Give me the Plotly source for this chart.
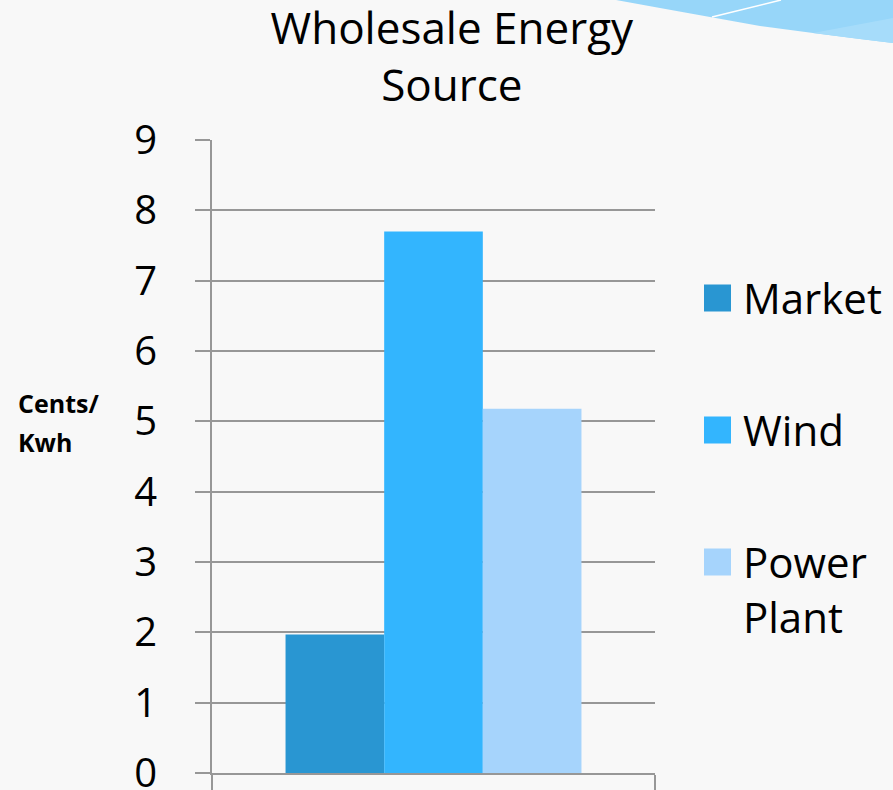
import plotly.graph_objects as go

# ---- data ----
categories = ["Wholesale Energy Source"]
series_names = ["Market", "Wind", "Power Plant"]
series_values = [1.97, 7.70, 5.18]
series_colors = ["#2996d2", "#33b5fe", "#a6d4fc"]
legend_labels = ["Market", "Wind", "Power<br>Plant"]
y_ticks = list(range(0, 10))

# ---- canvas geometry (pixels) ----
W, H = 893, 790
L, R, T, B = 212, 238, 140, 17
PW, PH = W - L - R, H - T - B
FONT = "Open Sans"
GRID = "#979797"


def px(x, y):
    """Pixel position -> paper coordinates."""
    return (x - L) / PW, (H - B - y) / PH


def path(points):
    parts = []
    for i, (x, y) in enumerate(points):
        u, v = px(x, y)
        parts.append(("M" if i == 0 else "L") + f"{u:.5f},{v:.5f}")
    return " ".join(parts) + " Z"


fig = go.Figure()
for name, val, col in zip(series_names, series_values, series_colors):
    fig.add_trace(go.Bar(x=categories, y=[val], name=name,
                         marker=dict(color=col, line=dict(width=0)),
                         showlegend=False))

shapes = []
# decorative swoosh in the top-right corner
shapes.append(dict(type="path", xref="paper", yref="paper", layer="below",
                   path=path([(616, 0), (660, 8), (710, 17), (760, 26), (813, 33),
                              (860, 39), (893, 43), (893, 0)]),
                   fillcolor="#97d6f9", line=dict(width=0)))
shapes.append(dict(type="path", xref="paper", yref="paper", layer="below",
                   path=path([(813, 33), (893, 18), (893, 43), (860, 39)]),
                   fillcolor="#a6dcfa", line=dict(width=0)))
u0, v0 = px(712, 17)
u1, v1 = px(781, 0)
shapes.append(dict(type="line", xref="paper", yref="paper", layer="below",
                   x0=u0, y0=v0, x1=u1, y1=v1,
                   line=dict(color="white", width=1.5)))

annotations = []
# legend built from swatches and labels
legend_centers = [298, 430, 562]
for lab, col, cy in zip(legend_labels, series_colors, legend_centers):
    a0, b0 = px(704, cy - 13.5)
    a1, b1 = px(731, cy + 13.5)
    shapes.append(dict(type="rect", xref="paper", yref="paper",
                       x0=a0, x1=a1, y0=b1, y1=b0,
                       fillcolor=col, line=dict(width=0)))
    tx, ty = px(741, cy - 31)
    annotations.append(dict(xref="paper", yref="paper", x=tx, y=ty,
                            xanchor="left", yanchor="top", showarrow=False,
                            text=lab, align="left",
                            font=dict(family=FONT, size=42, color="black")))

# axis caption
for txt, cy in (("Cents/", 403), ("Kwh", 442)):
    tx, ty = px(16, cy)
    annotations.append(dict(xref="paper", yref="paper", x=tx, y=ty,
                            xanchor="left", yanchor="middle", showarrow=False,
                            text=f"<b>{txt}</b>",
                            font=dict(family=FONT, size=25, color="black")))

fig.update_layout(
    width=W, height=H,
    margin=dict(l=L, r=R, t=T, b=B, pad=0, autoexpand=False),
    paper_bgcolor="#f8f8f8", plot_bgcolor="rgba(0,0,0,0)",
    barmode="group", bargap=0.332, bargroupgap=0,
    showlegend=False,
    title=dict(text="Wholesale Energy<br>Source", x=0.506, xref="container",
               xanchor="center", y=0.944, yanchor="top",
               font=dict(family=FONT, size=44, color="black")),
    xaxis=dict(showticklabels=False, showline=True, linecolor=GRID, linewidth=2,
               ticks="outside", tickson="boundaries", ticklen=17,
               tickcolor=GRID, tickwidth=2, showgrid=False, zeroline=False,
               automargin=False),
    yaxis=dict(range=[0, 9], tickvals=y_ticks, ticktext=[str(t) for t in y_ticks],
               showgrid=True, gridcolor=GRID, gridwidth=2,
               showline=True, linecolor=GRID, linewidth=2,
               ticks="outside", ticklen=15, tickcolor=GRID, tickwidth=2,
               ticklabelstandoff=30, ticklabeloverflow="allow",
               zeroline=False, automargin=False,
               tickfont=dict(family=FONT, size=40, color="black")),
    shapes=shapes, annotations=annotations,
)

fig.write_html("out.html")
